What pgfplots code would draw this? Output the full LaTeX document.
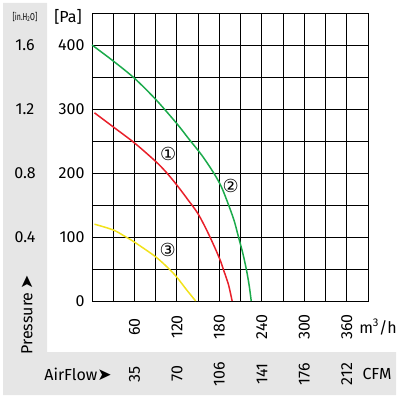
\documentclass[border=0pt]{standalone}
\usepackage{pgfplots}
\pgfplotsset{compat=1.18}
\usepackage{fontspec}
\setmainfont{Fira Sans}
\newfontfamily\dejavu{DejaVu Sans}
\definecolor{cgreen}{HTML}{1BAA4B}
\definecolor{cred}{HTML}{E8202A}
\definecolor{cyellow}{HTML}{F2E21C}
\definecolor{bandgray}{HTML}{E6E6E6}
\newcommand{\lbl}{\fontsize{16}{16}\selectfont}
\begin{document}
\begin{tikzpicture}[x=1pt,y=1pt]
\useasboundingbox (0,0) rectangle (406,399);
\fill[bandgray] (3,396) -- (47,396) -- (47,47) -- (396,47) -- (396,4) -- (3,4) -- cycle;
\begin{axis}[at={(92pt,98pt)}, anchor=south west, scale only axis,
  width=276pt, height=288pt,
  xmin=0, xmax=390, ymin=0, ymax=450,
  xtick={0,30,...,390}, ytick={0,50,...,450},
  xticklabels={,,60,,120,,180,,240,,300,,360,},
  yticklabels={0,,100,,200,,300,,400,},
  grid=major, grid style={black, line width=0.9pt},
  axis line style={black, line width=0.9pt},
  major tick length=0pt,
  clip=false,
  /pgf/number format/assume math mode=true,
  tick label style={font=\lbl},
  yticklabel style={anchor=east, xshift=-4pt},
  xticklabel style={yshift=-26pt, rotate=90, anchor=center},
]
\addplot[cgreen, line width=1.5pt, smooth] coordinates {(0,400) (30,375) (60,348) (90,315) (120,277) (137,253) (155,228) (172,200) (183,178) (193,150) (201,125) (207,100) (213,75) (218,50) (222,25) (225,0)};
\addplot[cred, line width=1.5pt, smooth] coordinates {(3.5,294) (30,272) (60,247) (90,218) (105,201) (120,181) (135,159) (150,136) (165,104) (180,67) (187,45) (193,25) (198,0)};
\addplot[cyellow, line width=1.5pt, smooth] coordinates {(3.5,120) (30,111) (48,100) (60,92) (90,69) (109,50) (120,37) (134,17) (146.5,0)};
\node[font=\dejavu\fontsize{18}{18}\selectfont] at (axis cs:107.5,230) {①};
\node[font=\dejavu\fontsize{18}{18}\selectfont] at (axis cs:196,179) {②};
\node[font=\dejavu\fontsize{18}{18}\selectfont] at (axis cs:107,80) {③};
\node[font=\lbl, rotate=90, anchor=center] at ([yshift=-73pt]axis cs:60,0) {35};
\node[font=\lbl, rotate=90, anchor=center] at ([yshift=-73pt]axis cs:120,0) {70};
\node[font=\lbl, rotate=90, anchor=center] at ([yshift=-73pt]axis cs:180,0) {106};
\node[font=\lbl, rotate=90, anchor=center] at ([yshift=-73pt]axis cs:240,0) {141};
\node[font=\lbl, rotate=90, anchor=center] at ([yshift=-73pt]axis cs:300,0) {176};
\node[font=\lbl, rotate=90, anchor=center] at ([yshift=-73pt]axis cs:360,0) {212};
\node[font=\lbl] at ([xshift=-67pt]axis cs:0,400) {1.6};
\node[font=\lbl] at ([xshift=-67pt]axis cs:0,300) {1.2};
\node[font=\lbl] at ([xshift=-67pt]axis cs:0,200) {0.8};
\node[font=\lbl] at ([xshift=-67pt]axis cs:0,100) {0.4};
\end{axis}
\node[font=\lbl] at (68,382) {[Pa]};
\node[font=\fontsize{10}{10}\selectfont, xscale=0.7] at (25,382) {[in.H\textsubscript{2}O]};
\node[font=\lbl, rotate=90] at (27,84) {Pressure\,{\dejavu\fontsize{17}{17}\selectfont ➤}};
\node[font=\lbl] at (78,25) {AirFlow{\dejavu\fontsize{17}{17}\selectfont ➤}};
\node[font=\lbl] at (378,72) {m\textsuperscript{3}/h};
\node[font=\lbl] at (377,25) {CFM};
\end{tikzpicture}
\end{document}
